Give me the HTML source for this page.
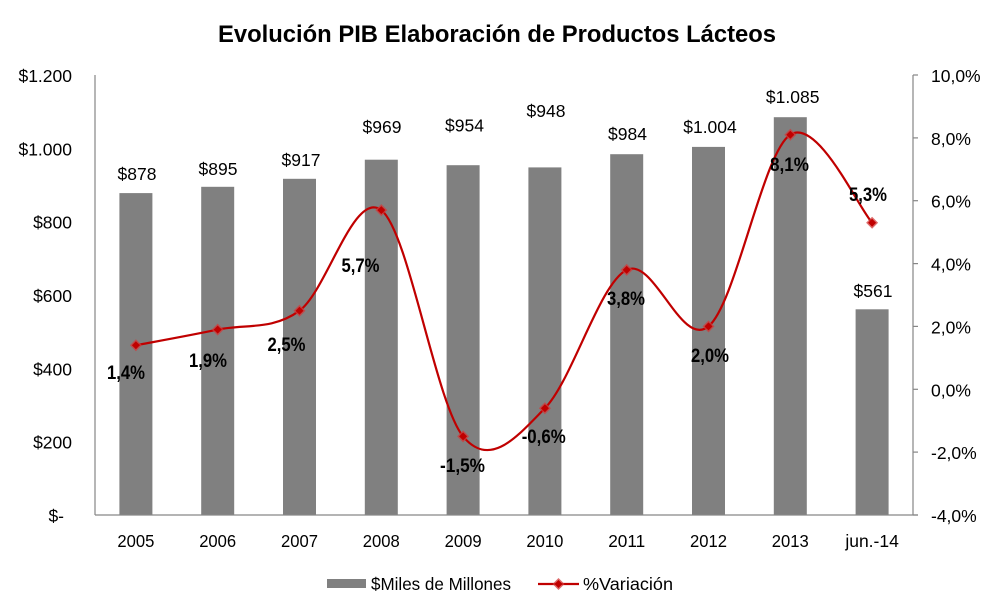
<!DOCTYPE html>
<html>
<head>
<meta charset="utf-8">
<style>
html,body{margin:0;padding:0;background:#fff;}
svg{display:block;}
text{font-family:"Liberation Sans",Arial,sans-serif;fill:#000;}
</style>
</head>
<body>
<svg width="993" height="614" viewBox="0 0 993 614" xmlns="http://www.w3.org/2000/svg">
<rect x="0" y="0" width="993" height="614" fill="#fff"/>
<!-- Title -->
<text x="218" y="42" font-size="24" font-weight="bold" textLength="558" lengthAdjust="spacingAndGlyphs">Evolución PIB Elaboración de Productos Lácteos</text>

<!-- Bars -->
<g fill="#808080">
<rect x="119.4" y="193.1" width="33" height="321.9"/>
<rect x="201.2" y="186.8" width="33" height="328.2"/>
<rect x="283.0" y="178.8" width="33" height="336.2"/>
<rect x="364.8" y="159.7" width="33" height="355.3"/>
<rect x="446.6" y="165.2" width="33" height="349.8"/>
<rect x="528.4" y="167.4" width="33" height="347.6"/>
<rect x="610.2" y="154.2" width="33" height="360.8"/>
<rect x="692.0" y="146.9" width="33" height="368.1"/>
<rect x="773.8" y="117.2" width="33" height="397.8"/>
<rect x="855.6" y="309.3" width="33" height="205.7"/>
</g>

<!-- Axes -->
<g stroke="#868686" stroke-width="1.2" fill="none">
<line x1="95" y1="75" x2="95" y2="515"/>
<line x1="95" y1="515" x2="918" y2="515"/>
<line x1="913" y1="75" x2="913" y2="515"/>
<line x1="913" y1="75" x2="918" y2="75"/>
<line x1="913" y1="137.9" x2="918" y2="137.9"/>
<line x1="913" y1="200.7" x2="918" y2="200.7"/>
<line x1="913" y1="263.6" x2="918" y2="263.6"/>
<line x1="913" y1="326.4" x2="918" y2="326.4"/>
<line x1="913" y1="389.3" x2="918" y2="389.3"/>
<line x1="913" y1="452.1" x2="918" y2="452.1"/>
<line x1="913" y1="515" x2="918" y2="515"/>
</g>

<!-- Left axis labels -->
<g font-size="17.5" text-anchor="end">
<text x="72" y="82">$1.200</text>
<text x="72" y="155.3">$1.000</text>
<text x="72" y="228.7">$800</text>
<text x="72" y="302">$600</text>
<text x="72" y="375.3">$400</text>
<text x="72" y="448.7">$200</text>
<text x="64" y="522">$-</text>
</g>

<!-- Right axis labels -->
<g font-size="17.5" text-anchor="start">
<text x="931" y="82">10,0%</text>
<text x="931" y="144.9">8,0%</text>
<text x="931" y="207.7">6,0%</text>
<text x="931" y="270.6">4,0%</text>
<text x="931" y="333.4">2,0%</text>
<text x="931" y="396.3">0,0%</text>
<text x="931" y="459.1">-2,0%</text>
<text x="931" y="522">-4,0%</text>
</g>

<!-- Category labels -->
<g font-size="17.5" text-anchor="middle">
<text x="135.9" y="547" textLength="37" lengthAdjust="spacingAndGlyphs">2005</text>
<text x="217.7" y="547" textLength="37" lengthAdjust="spacingAndGlyphs">2006</text>
<text x="299.5" y="547" textLength="37" lengthAdjust="spacingAndGlyphs">2007</text>
<text x="381.3" y="547" textLength="37" lengthAdjust="spacingAndGlyphs">2008</text>
<text x="463.1" y="547" textLength="37" lengthAdjust="spacingAndGlyphs">2009</text>
<text x="544.9" y="547" textLength="37" lengthAdjust="spacingAndGlyphs">2010</text>
<text x="626.7" y="547" textLength="37" lengthAdjust="spacingAndGlyphs">2011</text>
<text x="708.5" y="547" textLength="37" lengthAdjust="spacingAndGlyphs">2012</text>
<text x="790.3" y="547" textLength="37" lengthAdjust="spacingAndGlyphs">2013</text>
<text x="872.1" y="547">jun.-14</text>
</g>

<!-- Bar value labels -->
<g font-size="17.5" text-anchor="middle">
<text x="137" y="180">$878</text>
<text x="218" y="175">$895</text>
<text x="301" y="166">$917</text>
<text x="382" y="133">$969</text>
<text x="464.5" y="131.5">$954</text>
<text x="546" y="117">$948</text>
<text x="627.5" y="140">$984</text>
<text x="710" y="133">$1.004</text>
<text x="792.7" y="103">$1.085</text>
<text x="873" y="297">$561</text>
</g>

<!-- Line -->
<path d="M135.9,345.3 C149.5,342.7 190.4,335.4 217.7,329.6 C245.0,323.8 272.2,330.6 299.5,310.7 C326.8,290.8 354.0,189.2 381.3,210.1 C408.6,231.1 435.8,403.4 463.1,436.4 C490.4,469.4 517.6,436.0 544.9,408.2 C572.2,380.5 599.4,283.5 626.7,269.9 C654.0,256.3 681.2,348.9 708.5,326.4 C735.8,303.9 763.0,152.0 790.3,134.7 C817.6,117.4 858.5,208.0 872.1,222.7" fill="none" stroke="#c00000" stroke-width="2.2"/>

<!-- Markers -->
<defs>
<g id="mk">
<polygon points="0,-6 6,0 0,6 -6,0" fill="#d33a3a" fill-opacity="0.75"/>
<polygon points="0,-4 4,0 0,4 -4,0" fill="#c00000"/>
</g>
</defs>
<use href="#mk" x="135.9" y="345.3"/>
<use href="#mk" x="217.7" y="329.6"/>
<use href="#mk" x="299.5" y="310.7"/>
<use href="#mk" x="381.3" y="210.1"/>
<use href="#mk" x="463.1" y="436.4"/>
<use href="#mk" x="544.9" y="408.2"/>
<use href="#mk" x="626.7" y="269.9"/>
<use href="#mk" x="708.5" y="326.4"/>
<use href="#mk" x="790.3" y="134.7"/>
<use href="#mk" x="872.1" y="222.7"/>

<!-- Percent labels -->
<g font-size="19" font-weight="bold" text-anchor="middle">
<text x="126" y="379" textLength="38" lengthAdjust="spacingAndGlyphs">1,4%</text>
<text x="208" y="367" textLength="38" lengthAdjust="spacingAndGlyphs">1,9%</text>
<text x="286.5" y="351" textLength="38" lengthAdjust="spacingAndGlyphs">2,5%</text>
<text x="360.5" y="272" textLength="38" lengthAdjust="spacingAndGlyphs">5,7%</text>
<text x="462.5" y="472" textLength="45" lengthAdjust="spacingAndGlyphs">-1,5%</text>
<text x="543.7" y="443" textLength="44" lengthAdjust="spacingAndGlyphs">-0,6%</text>
<text x="626" y="305" textLength="38" lengthAdjust="spacingAndGlyphs">3,8%</text>
<text x="710" y="362" textLength="38" lengthAdjust="spacingAndGlyphs">2,0%</text>
<text x="789.5" y="171" textLength="39" lengthAdjust="spacingAndGlyphs">8,1%</text>
<text x="868" y="201" textLength="38" lengthAdjust="spacingAndGlyphs">5,3%</text>
</g>

<!-- Legend -->
<rect x="327" y="579" width="39" height="9" fill="#808080"/>
<text x="371" y="590" font-size="17.5" textLength="140" lengthAdjust="spacingAndGlyphs">$Miles de Millones</text>
<line x1="538" y1="584" x2="579" y2="584" stroke="#c00000" stroke-width="2.2"/>
<use href="#mk" x="558.5" y="584"/>
<text x="583" y="590" font-size="17.5" textLength="90" lengthAdjust="spacingAndGlyphs">%Variación</text>
</svg>
</body>
</html>
